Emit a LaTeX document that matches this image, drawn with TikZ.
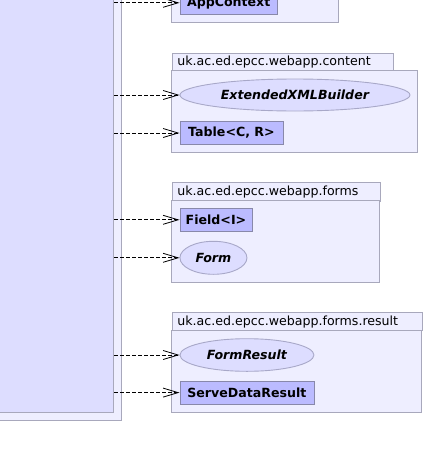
\documentclass[tikz,border=0pt]{standalone}
\usepackage{fontspec}
\setmainfont{DejaVu Sans}
\usetikzlibrary{arrows.meta,shapes.geometric}
\definecolor{pkgfill}{HTML}{EEEEFF}
\definecolor{pkgline}{HTML}{A8A8BC}
\definecolor{clsfill}{HTML}{BBBBFF}
\definecolor{clsline}{HTML}{8888AA}
\definecolor{ifcfill}{HTML}{DDDDFF}
\definecolor{ifcline}{HTML}{A8A8C8}
\begin{document}
\begin{tikzpicture}
    [x=1pt, y=-1pt,
    font=\fontsize{12.6}{15}\selectfont,
    pkgbody/.style={draw=pkgline, fill=pkgfill, line width=0.9pt},
    pkgtab/.style={draw=pkgline, fill=pkgfill, line width=0.9pt, anchor=north west,
        text width=#1-11pt, align=left, minimum height=18pt, inner xsep=5.5pt, inner ysep=0pt},
    cls/.style={draw=clsline, fill=clsfill, line width=0.9pt, anchor=west,
        minimum height=23pt, inner sep=0pt, font=\fontsize{12.6}{15}\selectfont\bfseries},
    ifc/.style={ellipse, draw=ifcline, fill=ifcfill, line width=0.9pt, anchor=west,
        inner sep=0pt, font=\fontsize{12.6}{15}\selectfont\bfseries\itshape},
    dep/.style={dash pattern=on 4pt off 2pt, line width=0.8pt,
        -{Straight Barb[length=15pt,width=9pt,line width=0.8pt]}}]
    \clip (0,0) rectangle (424,458);
    \useasboundingbox (0,0) rectangle (424,458);
    % left package and class
    \node[pkgbody, minimum width=131.5pt, minimum height=430pt] (leftpkg) at (55.75,205) {};
    \node[draw=pkgline, fill=ifcfill, line width=0.9pt, minimum width=123.7pt, minimum height=422.7pt] (cls) at (51.85,201.35) {};
    % top package
    \node[pkgbody, minimum width=167pt, minimum height=42.3pt] (toppkg) at (255,1.15) {};
    \node[cls, minimum width=97.5pt] (appctx) at (179.5,2.8) {AppContext};
    % content
    \node[pkgtab=221.5pt] (contenttab) at (171.5,52.5) {uk.ac.ed.epcc.webapp.content};
    \node[pkgbody, minimum width=246pt, minimum height=82pt] (contentpkg) at (294.5,111) {};
    \node[ifc, minimum width=230pt, minimum height=32pt] (xmlbuilder) at (179.5,95) {ExtendedXMLBuilder};
    \node[cls, minimum width=103pt] (table) at (179.5,133) {Table<C, R>};
    % forms
    \node[pkgtab=208pt, minimum height=18.4pt] (formstab) at (171.5,182.3) {uk.ac.ed.epcc.webapp.forms};
    \node[pkgbody, minimum width=208pt, minimum height=81.6pt] (formspkg) at (275.5,241.5) {};
    \node[cls, minimum width=72pt] (field) at (179.5,219.8) {Field<I>};
    \node[ifc, minimum width=67pt, minimum height=33pt] (form) at (179.5,257.8) {Form};
    % forms.result
    \node[pkgtab=250pt] (resulttab) at (171.5,312.3) {uk.ac.ed.epcc.webapp.forms.result};
    \node[pkgbody, minimum width=250pt, minimum height=82pt] (resultpkg) at (296.5,371.3) {};
    \node[ifc, minimum width=134pt, minimum height=32.6pt] (formresult) at (179.5,355) {FormResult};
    \node[cls, minimum width=134pt] (servedata) at (179.5,392.6) {ServeDataResult};
    % dependencies
    \foreach \target in {appctx,xmlbuilder,table,field,form,formresult,servedata}
        \draw[dep] (cls.east |- \target.west) -- (\target.west);
\end{tikzpicture}
\end{document}
